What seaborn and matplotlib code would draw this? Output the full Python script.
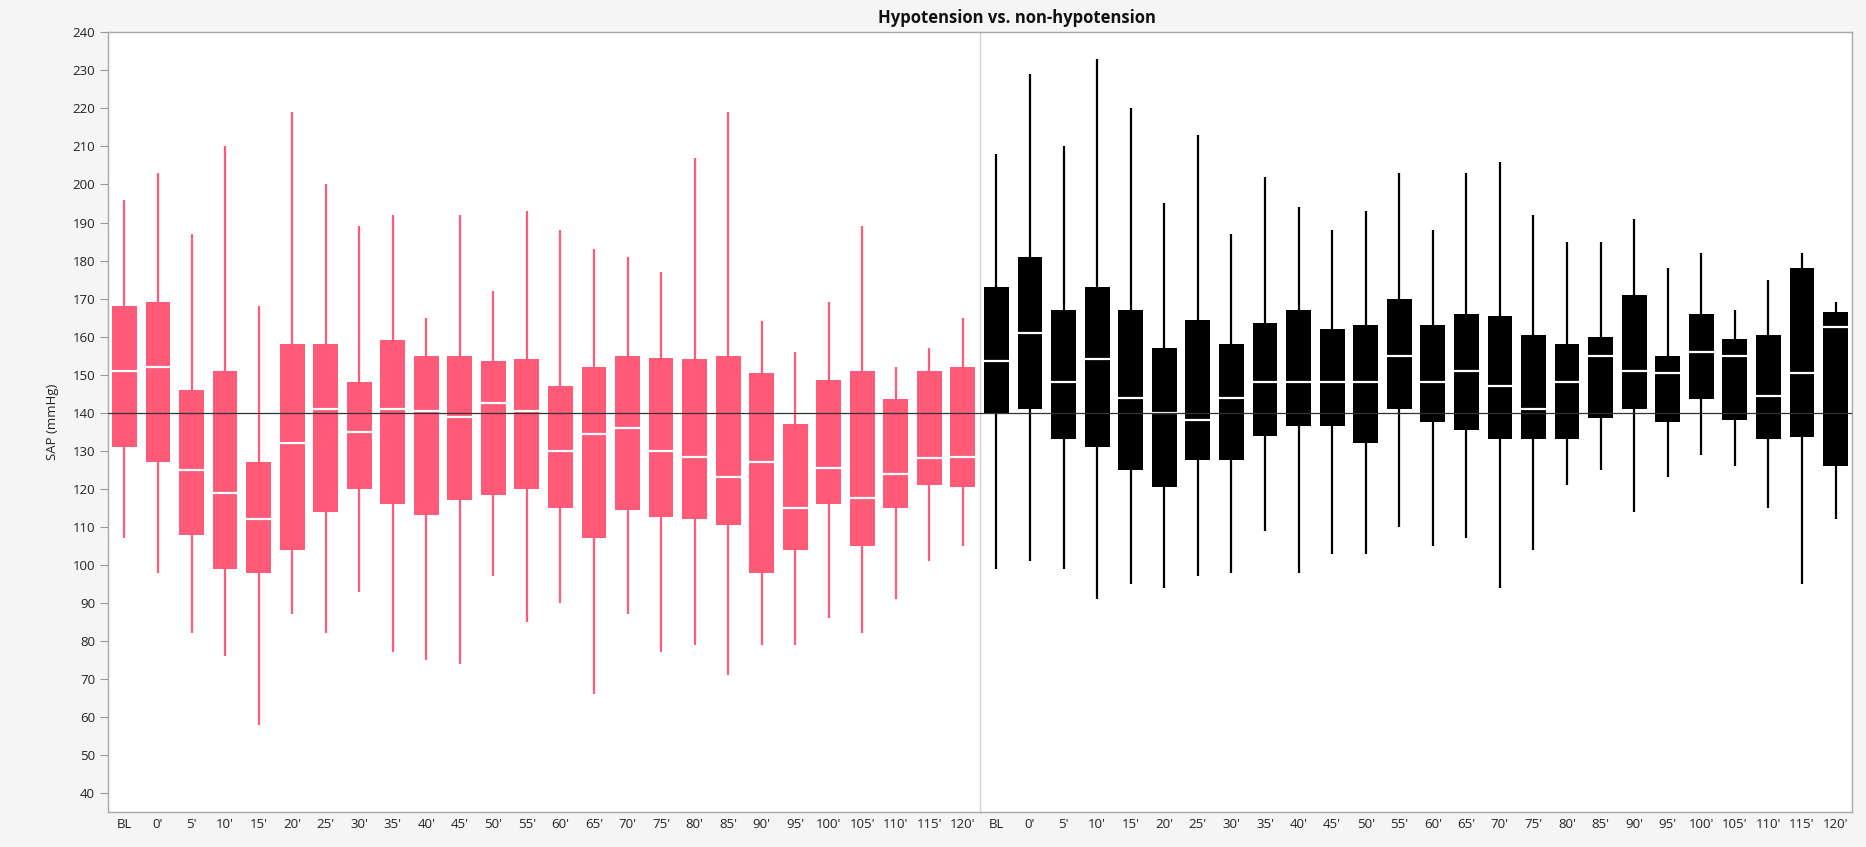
import numpy as np
import pandas as pd
import seaborn as sns
import matplotlib.pyplot as plt

TIMEPOINTS = ["BL", "0'", "5'", "10'", "15'", "20'", "25'", "30'", "35'", "40'", "45'", "50'", "55'",
              "60'", "65'", "70'", "75'", "80'", "85'", "90'", "95'", "100'", "105'", "110'", "115'", "120'"]

# hypotension group, five-number summaries
HYPO_MAX = [196, 203, 187, 210, 168, 219, 200, 189, 192, 165, 192, 172, 193,
            188, 183, 181, 177, 207, 219, 164, 156, 169, 189, 152, 157, 165]
HYPO_Q3 = [168, 169, 146, 151, 127, 158, 158, 148, 159, 155, 155, 153.5, 154,
           147, 152, 155, 154.5, 154, 155, 150.5, 137, 148.5, 151, 143.5, 151, 152]
HYPO_MED = [151, 152, 125, 119, 112, 132, 141, 135, 141, 140.5, 139, 142.5, 140.5,
            130, 134.5, 136, 130, 128.5, 123, 127, 115, 125.5, 117.5, 124, 128, 128.5]
HYPO_Q1 = [131, 127, 108, 99, 98, 104, 114, 120, 116, 113, 117, 118.5, 120,
           115, 107, 114.5, 112.5, 112, 110.5, 98, 104, 116, 105, 115, 121, 120.5]
HYPO_MIN = [107, 98, 82, 76, 58, 87, 82, 93, 77, 75, 74, 97, 85,
            90, 66, 87, 77, 79, 71, 79, 79, 86, 82, 91, 101, 105]

# non-hypotension group
NON_MAX = [208, 229, 210, 233, 220, 195, 213, 187, 202, 194, 188, 193, 203,
           188, 203, 206, 192, 185, 185, 191, 178, 182, 167, 175, 182, 169]
NON_Q3 = [173, 181, 167, 173, 167, 157, 164.5, 158, 163.5, 167, 162, 163, 170,
          163, 166, 165.5, 160.5, 158, 160, 171, 155, 166, 159.5, 160.5, 178, 166.5]
NON_MED = [153.5, 161, 148, 154, 144, 140, 138, 144, 148, 148, 148, 148, 155,
           148, 151, 147, 141, 148, 155, 151, 150.5, 156, 155, 144.5, 150.5, 162.5]
NON_Q1 = [140, 141, 133, 131, 125, 120.5, 127.5, 127.5, 134, 136.5, 136.5, 132, 141,
          137.5, 135.5, 133, 133, 133, 138.5, 141, 137.5, 143.5, 138, 133, 133.5, 126]
NON_MIN = [99, 101, 99, 91, 95, 94, 97, 98, 109, 98, 103, 103, 110,
           105, 107, 94, 104, 121, 125, 114, 123, 129, 126, 115, 95, 112]

REF_LINE = 140
PINK = "#FF5A78"
BLACK = "#000000"


# five values per timepoint -> linear percentiles give back exactly q1, median, q3
def five_point_frame(mins, q1s, meds, q3s, maxs):
    rows = {"timepoint": [], "sap": []}
    for i, tp in enumerate(TIMEPOINTS):
        for v in (mins[i], q1s[i], meds[i], q3s[i], maxs[i]):
            rows["timepoint"].append(tp)
            rows["sap"].append(v)
    return pd.DataFrame(rows)


sns.set_style("white")
plt.rcParams["font.family"] = ["Open Sans", "DejaVu Sans"]

fig = plt.figure(figsize=(18.66, 8.47), dpi=100, facecolor="#F5F5F5")
ax_left = fig.add_axes([0.0577, 0.0410, 0.5250 - 0.0577, 0.9619 - 0.0410])
ax_right = fig.add_axes([0.5250, 0.0410, 0.9927 - 0.5250, 0.9619 - 0.0410], sharey=ax_left)

panels = [
    (ax_left, five_point_frame(HYPO_MIN, HYPO_Q1, HYPO_MED, HYPO_Q3, HYPO_MAX), PINK),
    (ax_right, five_point_frame(NON_MIN, NON_Q1, NON_MED, NON_Q3, NON_MAX), BLACK),
]

for ax, df, col in panels:
    ax.set_facecolor("white")
    sns.boxplot(data=df, x="timepoint", y="sap", order=TIMEPOINTS, ax=ax,
                color=col, saturation=1, width=0.74, whis=(0, 100),
                showcaps=False, showfliers=False, linecolor=col, linewidth=1.5,
                boxprops=dict(linewidth=0),
                medianprops=dict(color="white", linewidth=1.6),
                whiskerprops=dict(color=col, linewidth=1.6))
    ax.axhline(REF_LINE, color="#333333", linewidth=0.9, zorder=10)
    ax.set_xlim(-0.5, len(TIMEPOINTS) - 0.5)
    ax.set_xlabel("")
    ax.tick_params(axis="x", length=0, pad=4, labelsize=9.5, labelcolor="#222222")
    for side in ["top", "bottom", "left", "right"]:
        ax.spines[side].set_color("#A8A8A8")
        ax.spines[side].set_linewidth(1.0)

ax_left.set_ylim(35, 240)
ax_left.set_yticks(np.arange(40, 241, 10))
ax_left.tick_params(axis="y", left=True, length=6, width=0.8, color="#999999", pad=3,
                    labelsize=9.5, labelcolor="#222222")
ax_left.set_ylabel("SAP (mmHg)", fontsize=9.5, color="#222222", labelpad=10)
ax_left.spines["right"].set_visible(False)

ax_right.set_ylabel("")
ax_right.tick_params(axis="y", left=False, labelleft=False)
ax_right.spines["left"].set_color("#D4D4D4")

fig.text(0.545, 0.979, "Hypotension vs. non-hypotension", ha="center", va="center",
         fontsize=12, fontweight="bold", color="#111111")

fig.savefig("out.png", dpi=100, facecolor=fig.get_facecolor())
plt.close()
